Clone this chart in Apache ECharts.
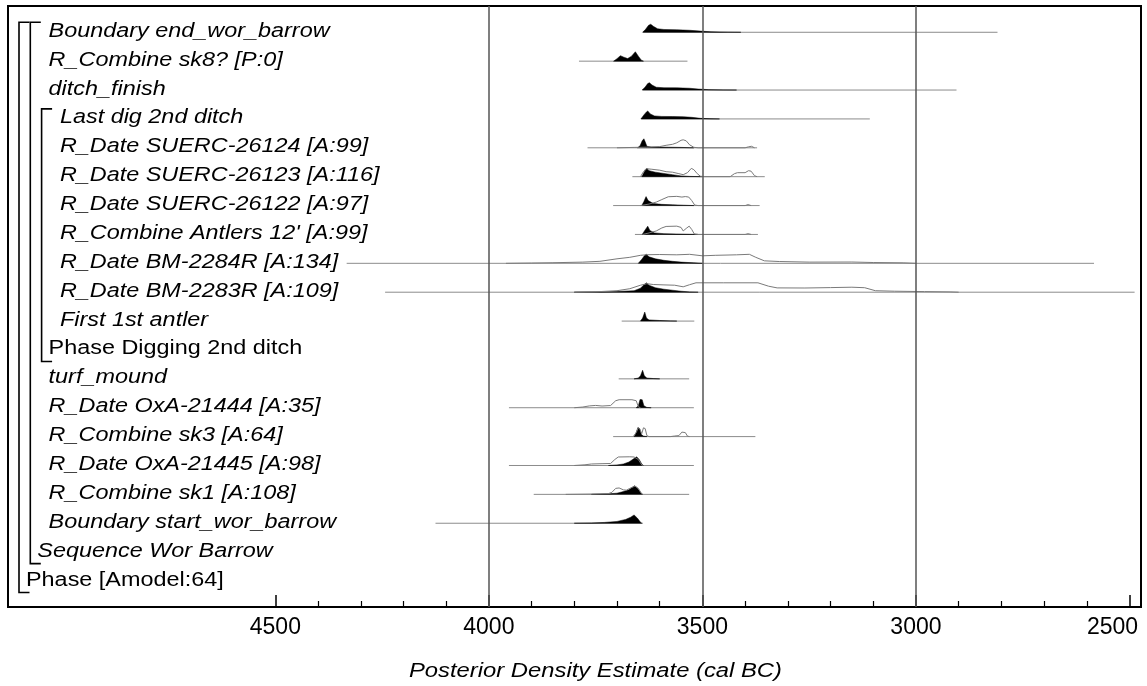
<!DOCTYPE html>
<html>
<head>
<meta charset="utf-8">
<title>Wor Barrow</title>
<script src="https://cdn.jsdelivr.net/npm/echarts@6/dist/echarts.min.js"></script>
<style>
  html, body { margin: 0; padding: 0; background: #fff; }
  #main { width: 1147px; height: 686px; }
</style>
</head>
<body>
<div id="main"></div>
<script>
// axis (cal BC, drawn right to left)
var X_MIN = 2473, X_MAX = 5126;
var majorTicks = [4500, 4000, 3500, 3000, 2500];
var minorTicks = [4400, 4300, 4200, 4100, 3900, 3800, 3700, 3600, 3400, 3300, 3200, 3100,
                  2900, 2800, 2700, 2600];
var gridYears = [4000, 3500, 3000];

// model rows, top to bottom
var rowLabels = [
  'Boundary end_wor_barrow', 'R_Combine sk8? [P:0]', 'ditch_finish', 'Last dig 2nd ditch',
  'R_Date SUERC-26124 [A:99]', 'R_Date SUERC-26123 [A:116]', 'R_Date SUERC-26122 [A:97]',
  "R_Combine Antlers 12' [A:99]", 'R_Date BM-2284R [A:134]', 'R_Date BM-2283R [A:109]',
  'First 1st antler', 'Phase Digging 2nd ditch', 'turf_mound', 'R_Date OxA-21444 [A:35]',
  'R_Combine sk3 [A:64]', 'R_Date OxA-21445 [A:98]', 'R_Combine sk1 [A:108]',
  'Boundary start_wor_barrow', 'Sequence Wor Barrow', 'Phase [Amodel:64]'
];
var rowDepth = [2, 2, 2, 3, 3, 3, 3, 3, 3, 3, 3, 2, 2, 2, 2, 2, 2, 2, 1, 0];
var rowItalic = [1, 1, 1, 1, 1, 1, 1, 1, 1, 1, 1, 0, 1, 1, 1, 1, 1, 1, 1, 0];
// [depth, first row, last row]
var brackets = [[0, 1, 20], [1, 1, 19], [2, 4, 12]];

// plotted range of each row [from, to] in cal BC
var ranges = [
  [3639, 2809], [3789, 3535], [3640, 2905], [3643, 3108], [3769, 3372], [3664, 3354],
  [3709, 3366], [3658, 3370], [4333, 2583], [4243, 2488], [3689, 3519], null,
  [3696, 3531], [3953, 3520], [3709, 3376], [3953, 3520], [3895, 3531], [4125, 3639],
  null, null
];

// posterior (filled) and likelihood (outline) densities: [year BC, relative height]
var endBoundary = [[3640,0],[3633,3],[3626,7],[3621,8],[3615,6],[3605,3.5],[3590,2.8],[3560,2.5],[3530,2],[3505,1.2],[3480,0.5],[3440,0.15],[3410,0]];
var sk8Post = [[3708,0],[3700,2.5],[3692,5.5],[3684,4],[3675,2.6],[3666,5],[3657,9.4],[3650,5],[3643,1],[3638,0]];
var ditchFinish = [[3641,0],[3634,3],[3628,6.5],[3624,7.3],[3618,5],[3608,2.8],[3590,2.3],[3560,2.2],[3530,1.8],[3510,1],[3485,0.4],[3450,0.1],[3420,0]];
var lastDig = [[3644,0],[3637,4],[3631,7],[3628,8],[3622,5],[3612,3],[3595,2.5],[3570,2.4],[3545,2.2],[3525,1.6],[3505,0.6],[3480,0.1],[3460,0]];
var suerc26124Post = [[3652,0],[3646,2],[3641,7],[3637,9],[3634,6],[3630,1.5],[3620,0.8],[3580,0.6],[3550,0.4],[3530,0.1],[3520,0]];
var suerc26124Prior = [[3700,0],[3660,0.4],[3630,0.6],[3600,1.2],[3585,2.5],[3570,3.5],[3560,5],[3550,7.5],[3545,8],[3538,7],[3530,3],[3520,0.5],[3510,0],[3400,0],[3392,1],[3385,1.5],[3378,0]];
var suerc26123Post = [[3642,0],[3636,5],[3630,8.4],[3625,6],[3610,4.5],[3590,3.2],[3570,2],[3550,0.8],[3530,0.3],[3500,0]];
var suerc26123Prior = [[3645,0],[3638,5],[3632,8],[3620,7.5],[3600,6.5],[3585,5],[3570,4.5],[3555,3],[3545,2],[3535,4],[3526,8.3],[3520,7],[3512,3],[3505,0.5],[3495,0],[3435,0],[3425,3],[3418,4],[3400,4],[3392,6],[3386,5.5],[3378,1],[3372,0]];
var suerc26122Post = [[3642,0],[3637,4],[3632,9],[3627,5],[3615,2],[3595,1.2],[3570,0.8],[3545,0.4],[3520,0]];
var suerc26122Prior = [[3645,0],[3625,1.5],[3608,3.5],[3595,6],[3580,8.8],[3560,9.2],[3548,8.5],[3540,9],[3532,8.5],[3525,5],[3518,0.5],[3510,0],[3400,0],[3393,1],[3386,0]];
var antlersPost = [[3641,0],[3635,4],[3628,8.3],[3623,4],[3612,1.5],[3590,0.8],[3560,0.4],[3530,0.1],[3510,0]];
var antlersPrior = [[3640,0],[3625,1.5],[3608,3.5],[3595,6.5],[3585,8],[3560,8.3],[3550,7],[3545,3.5],[3538,6],[3531,8.3],[3525,5],[3519,0.5],[3510,0],[3400,0],[3393,0.8],[3386,0]];
var bm2284Post = [[3650,0],[3642,4],[3635,8],[3631,9],[3625,6.5],[3610,4.5],[3590,3],[3570,2],[3550,1.2],[3520,0.5],[3500,0]];
var bm2284Prior = [[3960,0],[3900,0.3],[3850,0.6],[3780,1.2],[3740,2],[3700,4.5],[3670,6],[3645,8],[3630,8.6],[3600,8.8],[3560,8.5],[3530,9],[3500,7.5],[3470,8],[3420,8.5],[3390,9],[3375,6],[3355,2.5],[3320,1.8],[3250,1.2],[3150,1.3],[3100,0.8],[3030,0.5],[3000,0]];
var bm2283Post = [[3800,0],[3740,0.3],[3700,0.8],[3660,1.5],[3645,4],[3638,7],[3631,9.4],[3625,7],[3610,4.5],[3590,3],[3570,2],[3550,1],[3530,0.3],[3510,0]];
var bm2283Prior = [[3800,0],[3750,0.4],[3700,1.5],[3670,3.5],[3645,7],[3630,8.5],[3615,7.7],[3590,7.3],[3565,7],[3545,5.4],[3530,7.5],[3515,9.4],[3450,9.4],[3370,9.4],[3345,6],[3325,4.3],[3260,4.2],[3200,4.6],[3150,5],[3120,4.5],[3095,1.5],[3050,1],[2980,0.6],[2920,0.3],[2900,0]];
var firstAntler = [[3645,0],[3640,3],[3635,9],[3631,3],[3625,1.2],[3600,0.6],[3575,0.2],[3560,0]];
var turfMound = [[3660,0],[3650,0.8],[3645,3],[3640,8.6],[3636,3],[3630,0.8],[3615,0.3],[3600,0]];
var oxa21444Post = [[3655,0],[3650,2],[3646,8.3],[3641,8],[3637,2],[3630,0.3],[3620,0]];
var oxa21444Prior = [[3800,0],[3780,0.7],[3765,1.8],[3750,2.3],[3735,1.7],[3715,2.2],[3703,7],[3695,8],[3665,8],[3655,7],[3650,1],[3645,0]];
var sk3Post = [[3660,0],[3656,3],[3651,9],[3647,8],[3643,2],[3638,0.5],[3630,0]];
var sk3Prior = [[3662,0],[3655,4],[3650,9],[3646,7],[3642,3],[3638,8.8],[3634,8],[3630,1],[3625,0],[3575,0],[3565,0.6],[3555,1],[3548,4.5],[3540,4],[3535,0.5],[3530,0]];
var oxa21445Post = [[3720,0],[3700,0.6],[3685,1.5],[3672,3.5],[3660,7],[3654,8.7],[3648,6],[3642,1.5],[3638,0]];
var oxa21445Prior = [[3800,0],[3775,0.7],[3760,1.5],[3735,1.8],[3715,2],[3705,6],[3697,8.5],[3670,8.7],[3660,8.5],[3650,6],[3642,0.5],[3638,0]];
var sk1Post = [[3760,0],[3720,0.5],[3700,1.2],[3685,2.8],[3672,4.5],[3664,7],[3658,8.7],[3652,6],[3645,2],[3640,0]];
var sk1Prior = [[3820,0],[3760,0.3],[3720,0.8],[3712,2],[3703,6],[3695,6.4],[3685,4.5],[3678,4.2],[3670,6],[3662,7.5],[3658,8.2],[3650,6],[3643,1],[3640,0]];
var startBoundary = [[3800,0],[3760,0.3],[3730,0.8],[3700,1.8],[3680,3.8],[3668,6],[3660,8.3],[3652,5],[3645,1],[3642,0]];

var posterior = [endBoundary, sk8Post, ditchFinish, lastDig, suerc26124Post, suerc26123Post,
  suerc26122Post, antlersPost, bm2284Post, bm2283Post, firstAntler, null, turfMound,
  oxa21444Post, sk3Post, oxa21445Post, sk1Post, startBoundary, null, null];
var likelihood = [null, null, null, null, suerc26124Prior, suerc26123Prior, suerc26122Prior,
  antlersPrior, bm2284Prior, bm2283Prior, null, null, null, oxa21444Prior, sk3Prior,
  oxa21445Prior, sk1Prior, null, null, null];

var FONT = 'Arial, "Liberation Sans", sans-serif';
var TEXT_STRETCH = 1.17;

function labelX(coordSys, depth) {
  return coordSys.x + 18 + 11.3 * depth;
}

function renderDensity(params, api) {
  var i = api.value(0);
  var row = i + 1;
  var kids = [];
  var toPts = function (dist) {
    return dist.map(function (p) {
      var c = api.coord([p[0], row]);
      return [c[0], c[1] - p[1]];
    });
  };
  if (ranges[i]) {
    var a = api.coord([ranges[i][0], row]), b = api.coord([ranges[i][1], row]);
    kids.push({ type: 'line', shape: { x1: a[0], y1: a[1], x2: b[0], y2: b[1] },
      style: { stroke: '#8c8c8c', lineWidth: 1 } });
  }
  if (posterior[i]) {
    kids.push({ type: 'polygon', shape: { points: toPts(posterior[i]) },
      style: { fill: '#000', stroke: '#000', lineWidth: 0.5 } });
  }
  if (likelihood[i]) {
    kids.push({ type: 'polyline', shape: { points: toPts(likelihood[i]) },
      style: { stroke: '#7a7a7a', fill: null, lineWidth: 1 } });
  }
  return { type: 'group', children: kids };
}

function renderLabel(params, api) {
  var i = api.value(0);
  var y = api.coord([X_MIN, i + 1])[1] - 1;
  return {
    type: 'text',
    x: labelX(params.coordSys, rowDepth[i]),
    y: y,
    scaleX: TEXT_STRETCH,
    style: {
      text: rowLabels[i],
      font: (rowItalic[i] ? 'italic ' : '') + '20px ' + FONT,
      fill: '#000',
      textAlign: 'left',
      textVerticalAlign: 'middle',
      verticalAlign: 'middle'
    }
  };
}

function renderBracket(params, api) {
  var depth = api.value(0);
  var bx = labelX(params.coordSys, depth) - 7;
  var top = api.coord([X_MIN, api.value(1)])[1] - 10;
  var bottom = api.coord([X_MIN, api.value(2)])[1] + 11.5;
  return {
    type: 'polyline',
    shape: { points: [[bx + 10.5, top], [bx, top], [bx, bottom], [bx + 10.5, bottom]] },
    style: { stroke: '#000', fill: null, lineWidth: 1.6 }
  };
}

var rowIndex = rowLabels.map(function (l, i) { return [i]; });

var myChart = echarts.init(document.getElementById('main'));
myChart.setOption({
  animation: false,
  backgroundColor: '#fff',
  grid: {
    left: 8, top: 6, width: 1133, height: 601,
    outerBoundsMode: 'none', containLabel: false,
    show: true, borderColor: '#000', borderWidth: 2, backgroundColor: 'transparent'
  },
  xAxis: [
    {
      type: 'value', inverse: true, min: X_MIN, max: X_MAX, position: 'bottom',
      axisLine: { show: true, lineStyle: { color: '#000', width: 2 } },
      axisTick: { show: true, inside: true, length: 12, customValues: majorTicks,
        lineStyle: { color: '#000', width: 1.5 } },
      axisLabel: {
        customValues: majorTicks, color: '#000', fontSize: 23, fontFamily: FONT,
        margin: 9, hideOverlap: false,
        // the last label sits against the frame, pulled left as in the original
        formatter: function (v) { return v === 2500 ? '{edge|' + v + '}' : String(v); },
        rich: { edge: { fontSize: 23, fontFamily: FONT, color: '#000', padding: [0, 34, 0, 0] } }
      },
      splitLine: { show: false }
    },
    {
      type: 'value', inverse: true, min: X_MIN, max: X_MAX, position: 'bottom',
      axisLine: { show: false },
      axisTick: { show: true, inside: true, length: 6, customValues: minorTicks,
        lineStyle: { color: '#000', width: 1.2 } },
      axisLabel: { show: false },
      splitLine: { show: false }
    }
  ],
  yAxis: { type: 'value', inverse: true, min: 0.09, max: 20.9, show: false },
  graphic: [{
    type: 'text', x: 409, y: 671, scaleX: 1.19,
    style: { text: 'Posterior Density Estimate (cal BC)', font: 'italic 20px ' + FONT,
      fill: '#000', textVerticalAlign: 'middle', verticalAlign: 'middle' }
  }],
  series: [
    {
      type: 'line', data: [], silent: true,
      markLine: {
        silent: true, symbol: ['none', 'none'], label: { show: false },
        lineStyle: { color: '#555', width: 1.5, type: 'solid' },
        data: gridYears.map(function (v) { return { xAxis: v }; })
      }
    },
    { type: 'custom', name: 'density', renderItem: renderDensity, data: rowIndex, silent: true },
    { type: 'custom', name: 'labels', renderItem: renderLabel, data: rowIndex, silent: true },
    { type: 'custom', name: 'brackets', renderItem: renderBracket, data: brackets, silent: true }
  ]
});
</script>
</body>
</html>
